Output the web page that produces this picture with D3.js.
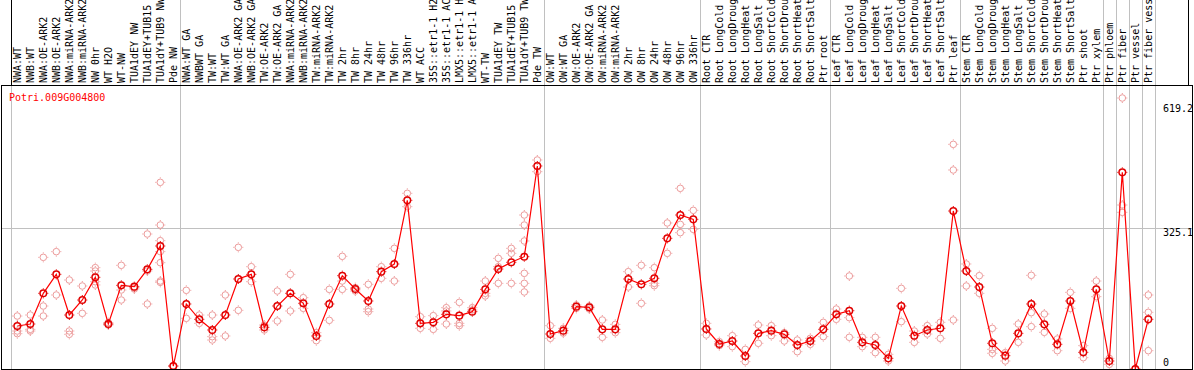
<!DOCTYPE html>
<html>
<head>
<meta charset="utf-8">
<script src="https://cdn.jsdelivr.net/npm/d3@7"></script>
<style>
body { margin: 0; background: #fff; }
svg { display: block; }
text { font-family: "DejaVu Sans Mono", monospace; font-size: 10px; }
</style>
</head>
<body>
<div id="chart"></div>
<script>
var geneId = "Potri.009G004800";

var samples = ["NWA:WT", "NWB:WT", "NWA:OE-ARK2", "NWB:OE-ARK2", "NWA:miRNA-ARK2", "NWB:miRNA-ARK2",
  "NW 0hr", "WT H2O", "WT-NW", "TUA1dEY NW", "TUA1dEY+TUB15", "TUA1dY+TUB9 NW", "Pde NW",
  "NWA:WT GA", "NWBWT GA", "TW:WT", "TW:WT GA", "NWA:OE-ARK2 GA", "NWB:OE-ARK2 GA", "TW:OE-ARK2",
  "TW:OE-ARK2 GA", "NWA:miRNA-ARK2", "NWB:miRNA-ARK2", "TW:miRNA-ARK2", "TW:miRNA-ARK2",
  "TW 2hr", "TW 8hr", "TW 24hr", "TW 48hr", "TW 96hr", "TW 336hr", "WT ACC", "35S::etr1-1 H2",
  "35S::etr1-1 AC", "LMX5::etr1-1 H", "LMX5::etr1-1 A", "WT-TW", "TUA1dEY TW", "TUA1dEY+TUB15",
  "TUA1dY+TUB9 TW", "Pde TW",
  "OW:WT", "OW:WT GA", "OW:OE-ARK2", "OW:OE-ARK2 GA", "OW:miRNA-ARK2", "OW:miRNA-ARK2",
  "OW 2hr", "OW 8hr", "OW 24hr", "OW 48hr", "OW 96hr", "OW 336hr",
  "Root CTR", "Root LongCold", "Root LongDroug", "Root LongHeat", "Root LongSalt", "Root ShortCold",
  "Root ShortDrou", "Root ShortHeat", "Root ShortSalt", "Ptr root",
  "Leaf CTR", "Leaf LongCold", "Leaf LongDroug", "Leaf LongHeat", "Leaf LongSalt", "Leaf ShortCold",
  "Leaf ShortDrou", "Leaf ShortHeat", "Leaf ShortSalt", "Ptr leaf",
  "Stem CTR", "Stem LongCold", "Stem LongDroug", "Stem LongHeat", "Stem LongSalt", "Stem ShortCold",
  "Stem ShortDrou", "Stem ShortHeat", "Stem ShortSalt", "Ptr shoot", "Ptr xylem",
  "Ptr phloem", "Ptr fiber", "Ptr vessel", "Ptr fiber vess"];

// first sample index of each group
var groupStarts = [0, 13, 41, 53, 63, 73, 84, 85, 86, 87];

var means = [102.1, 106.6, 176.2, 219.2, 127.0, 161.0, 212.4, 106.6, 194.3, 191.3,
  230.6, 283.5, 11.3, 152.0, 117.2, 93.0, 127.0, 208.7, 219.2, 99.0,
  147.4, 176.2, 153.5, 79.4, 152.0, 216.2, 186.0, 158.8, 225.3, 242.7,
  387.1, 108.1, 110.4, 128.5, 125.5, 134.6, 185.2, 231.3, 246.5, 259.3,
  465.0, 83.9, 91.5, 145.9, 144.4, 94.5, 94.5, 208.7, 196.6, 210.2,
  300.9, 353.8, 344.0, 95.3, 61.2, 68.0, 34.0, 85.4, 91.5, 83.2,
  59.0, 68.0, 94.5, 128.5, 136.8, 65.0, 59.0, 28.7, 147.4, 80.1,
  93.0, 96.8, 362.9, 226.8, 190.5, 62.8, 34.8, 85.4, 152.0, 105.8,
  60.5, 158.8, 42.3, 185.2, 22.7, 450.6, 4.5, 117.2];

var replicates = [
  [124.7, 90.7, 84.7], [127.0, 94.5, 90.7], [257.8, 147.4, 124.7], [270.7, 172.4],
  [206.4, 90.7, 83.2], [192.8, 130.8], [234.4, 226.8, 202.6, 195.1], [109.6, 104.3],
  [239.7, 183.7, 161.0], [189.0, 186.0], [310.7, 226.8, 152.0],
  [427.9, 331.1, 295.6, 270.7, 245.7, 204.1, 201.1], [11.3],
  [183.0, 119.5], [127.0, 108.1], [127.0, 77.9, 70.3], [172.4, 79.4], [280.5, 137.6],
  [236.6, 202.6], [104.3, 93.0], [181.4, 113.4], [219.2, 136.1], [166.3, 142.1],
  [86.9, 68.8], [185.2, 114.9], [260.1, 204.1, 185.2], [189.0, 181.4],
  [196.6, 140.6, 134.6], [236.6, 210.2], [278.2, 204.1], [403.0, 372.7],
  [123.2, 96.8], [125.5, 94.5], [143.6, 136.1, 106.6], [155.7, 108.1, 102.8],
  [143.6, 138.4], [204.1, 176.2, 170.1], [255.5, 236.6, 198.8], [278.2, 266.9, 198.8],
  [353.8, 331.1, 294.9, 221.5, 198.8, 179.2], [478.6, 452.1],
  [102.8, 74.1], [96.8, 86.0], [149.7, 142.1], [147.4, 140.6], [115.7, 76.4],
  [105.8, 86.9], [225.3, 190.5], [239.7, 153.5], [234.4, 198.8, 193.5],
  [335.7, 266.9], [414.3, 332.6, 313.8], [364.4, 321.3],
  [108.1, 81.7], [66.5, 57.5], [80.1, 55.2], [49.1, 21.2], [104.3, 62.8],
  [102.8, 80.1], [86.9, 68.0], [70.3, 43.8], [74.1, 60.5], [110.4, 77.9],
  [140.6, 117.2], [215.5, 121.0, 76.4], [76.4, 55.2], [76.4, 41.6], [37.8, 22.7],
  [187.5, 111.9], [90.7, 65.0], [102.8, 83.9], [110.4, 74.1], [514.1, 455.9, 115.7],
  [242.7, 192.8], [216.2, 176.2], [96.8, 49.1, 40.1], [41.6, 22.7], [106.6, 65.0],
  [217.0, 132.3, 100.6], [129.3, 87.7], [72.6, 46.1], [178.4, 142.1], [57.5, 30.2],
  [204.1, 168.6], [28.7, 15.1],
  [619.2, 376.5, 359.9], [4.5], [172.4, 133.1, 46.1]];

var yTicks = [0, 325.1, 619.2];

var width = 1194, height = 370;
var plotTop = 85, plotBottom = 369, plotLeft = 1, plotRight = 1192;

var svg = d3.select("#chart").append("svg")
  .attr("width", width).attr("height", height);
svg.append("rect").attr("width", width).attr("height", height).attr("fill", "#fff");

var x = d3.scaleBand().domain(d3.range(samples.length)).range([10.8, 1154.8]);
var y = d3.scaleLinear().domain([0, 619.2]).range([371, 98]);
function cx(i) { return x(i) + x.bandwidth() / 2; }
function crisp(v) { return Math.round(v) + 0.5; }

// grid
var sepX = groupStarts.map(function(i) { return x(i); }).concat([x.range()[1]]);
svg.selectAll(".sep").data(sepX).enter().append("line")
  .attr("x1", function(d) { return crisp(d); }).attr("x2", function(d) { return crisp(d); })
  .attr("y1", function(d, i) { return i == 0 ? plotTop : 0; }).attr("y2", plotBottom)
  .attr("stroke", "#c0c0c0");
svg.append("line")
  .attr("x1", plotLeft).attr("x2", plotRight)
  .attr("y1", crisp(y(325.1))).attr("y2", crisp(y(325.1)))
  .attr("stroke", "#c0c0c0");

// borders
svg.append("line").attr("x1", 11.5).attr("x2", 11.5).attr("y1", 0).attr("y2", plotTop).attr("stroke", "#000");
svg.append("line").attr("x1", 1188.5).attr("x2", 1188.5).attr("y1", 0).attr("y2", plotTop).attr("stroke", "#000");
svg.append("rect")
  .attr("x", plotLeft + 0.5).attr("y", plotTop + 0.5)
  .attr("width", plotRight - plotLeft).attr("height", plotBottom - plotTop)
  .attr("fill", "none").attr("stroke", "#000");

// sample labels
svg.selectAll(".lab").data(samples).enter().append("text")
  .attr("transform", function(d, i) { return "translate(" + (cx(i) + 3.5) + ",83) rotate(-90)"; })
  .attr("fill", "#000")
  .text(function(d) { return d; });

// y labels
var yAxis = svg.append("g").attr("transform", "translate(1163,0)")
  .call(d3.axisRight(y).tickValues(yTicks).tickSize(0).tickPadding(0).tickFormat(function(d) { return d; }));
yAxis.select(".domain").remove();
yAxis.selectAll("text")
  .attr("fill", "#000")
  .style("font-family", "'DejaVu Sans Mono', monospace").style("font-size", "10px")
  .attr("dy", function(d) { return d == 0 ? "-0.6em" : d == 619.2 ? "1.3em" : "0.8em"; });

// title
svg.append("text").attr("x", 9).attr("y", 101).attr("fill", "#f00").text(geneId);

// data
svg.append("clipPath").attr("id", "clip").append("rect")
  .attr("x", plotLeft + 1).attr("y", plotTop + 1)
  .attr("width", plotRight - plotLeft - 1).attr("height", plotBottom - plotTop - 1);
var g = svg.append("g").attr("clip-path", "url(#clip)");

function marker(sel, color, sw) {
  sel.append("circle").attr("r", 3.3).attr("fill", "none").attr("stroke", color).attr("stroke-width", sw);
  sel.append("path").attr("d", "M-5,0H-4M4,0H5M0,-5V-4M0,4V5")
    .attr("stroke", color).attr("stroke-width", 1).attr("fill", "none");
}

var repPts = [];
replicates.forEach(function(r, i) { r.forEach(function(v) { repPts.push([i, v]); }); });
g.selectAll(".rep").data(repPts).enter().append("g")
  .attr("transform", function(d) { return "translate(" + cx(d[0]) + "," + y(d[1]) + ")"; })
  .call(marker, "#ec9a9a", 1);

g.append("path").datum(means)
  .attr("d", d3.line().x(function(d, i) { return cx(i); }).y(function(d) { return y(d); }))
  .attr("fill", "none").attr("stroke", "#f00").attr("stroke-width", 1.2);

g.selectAll(".mean").data(means).enter().append("g")
  .attr("transform", function(d, i) { return "translate(" + cx(i) + "," + y(d) + ")"; })
  .call(marker, "#e00000", 1.5);
</script>
</body>
</html>
